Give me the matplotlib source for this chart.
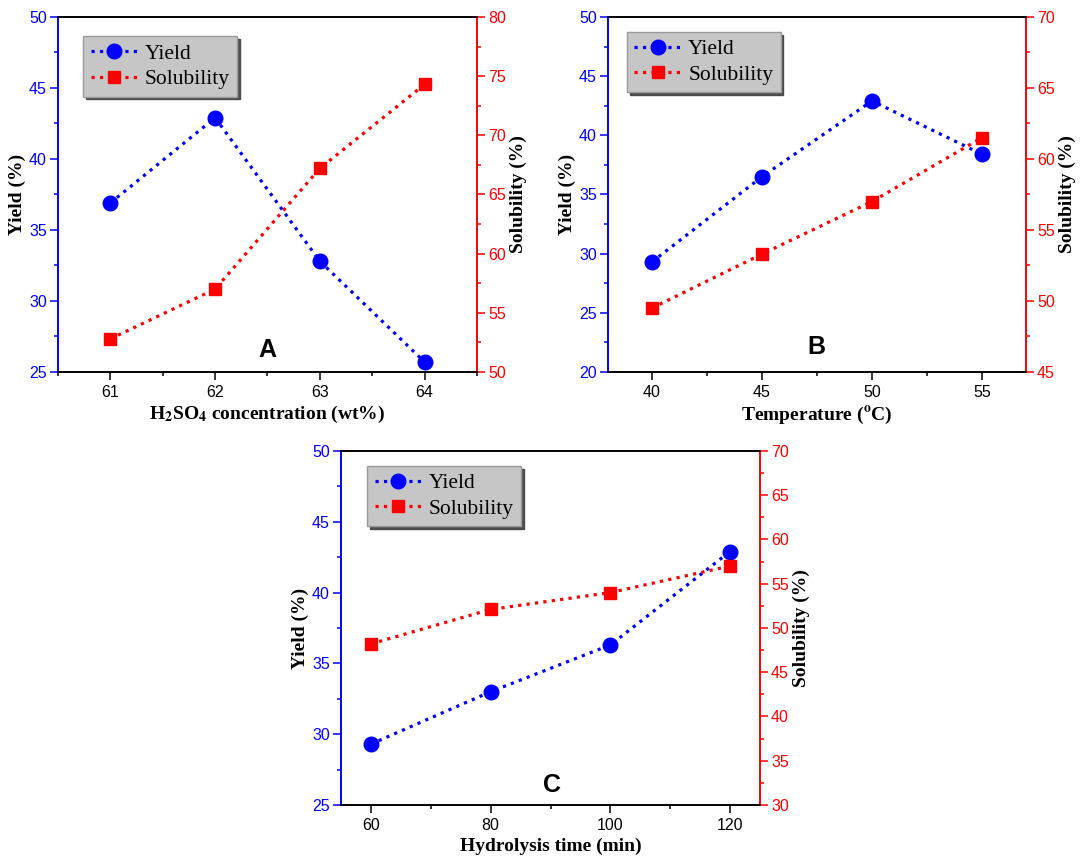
import matplotlib
matplotlib.use("Agg")
import matplotlib.pyplot as plt
from matplotlib.ticker import MultipleLocator

plt.rcParams["mathtext.fontset"] = "stix"

BLUE = "#0000ff"
RED = "#ff0000"

# panel A: acid concentration
acid = [61, 62, 63, 64]
acid_yield = [36.9, 42.9, 32.8, 25.7]
acid_solub = [52.8, 57.0, 67.2, 74.3]

# panel B: temperature
temp = [40, 45, 50, 55]
temp_yield = [29.3, 36.5, 42.9, 38.4]
temp_solub = [49.5, 53.3, 57.0, 61.5]

# panel C: hydrolysis time
time_min = [60, 80, 100, 120]
time_yield = [29.3, 33.0, 36.3, 42.9]
time_solub = [48.2, 52.1, 54.0, 57.0]

PANELS = [
    # rect, x, yield, solub, xlim, xmajor, ylim, y2lim, xlabel, letter, letter pos, legend anchor
    ([0.0535, 0.567, 0.3865, 0.4133], acid, acid_yield, acid_solub, (60.5, 64.5), 1,
     (25, 50), (50, 80), r"H$_{\mathbf{2}}$SO$_{\mathbf{4}}$ concentration (wt%)",
     "A", (62.5, 26.55), (0.06, 0.946)),
    ([0.5609, 0.567, 0.3856, 0.4133], temp, temp_yield, temp_solub, (38, 57), 5,
     (20, 50), (45, 70), r"Temperature ($^{\mathbf{o}}$C)",
     "B", (47.45, 22.1), (0.045, 0.958)),
    ([0.3146, 0.0629, 0.3865, 0.4121], time_min, time_yield, time_solub, (55, 125), 20,
     (25, 50), (30, 70), "Hydrolysis time (min)",
     "C", (90.2, 26.4), (0.062, 0.958)),
]

SERIF = "Liberation Serif"
SANS = "Liberation Sans"

fig = plt.figure(figsize=(10.84, 8.59), dpi=100)

for rect, x, yld, sol, xlim, xmaj, ylim, y2lim, xlabel, letter, lpos, anchor in PANELS:
    ax = fig.add_axes(rect)
    ax2 = ax.twinx()

    l1, = ax.plot(x, yld, linestyle=":", color=BLUE, linewidth=2.3,
                  marker="o", markersize=10.5, label="Yield")
    l2, = ax2.plot(x, sol, linestyle=":", color=RED, linewidth=2.3,
                   marker="s", markersize=8.5, label="Solubility")

    ax.set_xlim(*xlim)
    ax.set_ylim(*ylim)
    ax2.set_ylim(*y2lim)
    ax.xaxis.set_major_locator(MultipleLocator(xmaj))
    ax.xaxis.set_minor_locator(MultipleLocator(xmaj / 2))
    ax.yaxis.set_major_locator(MultipleLocator(5))
    ax.yaxis.set_minor_locator(MultipleLocator(2.5))
    ax2.yaxis.set_major_locator(MultipleLocator(5))
    ax2.yaxis.set_minor_locator(MultipleLocator(2.5))

    for a in (ax, ax2):
        a.spines["left"].set_color(BLUE)
        a.spines["right"].set_color(RED)
        for s in a.spines.values():
            s.set_linewidth(1.2)

    ax.tick_params(axis="y", which="both", direction="out", colors=BLUE,
                   labelsize=11.5, length=6, width=1.1, pad=2)
    ax.tick_params(axis="y", which="minor", length=3)
    ax.tick_params(axis="x", which="both", direction="out", colors="black",
                   labelsize=11.5, length=6, width=1.1)
    ax.tick_params(axis="x", which="minor", length=3)
    ax2.tick_params(axis="y", which="both", direction="out", colors=RED,
                    labelsize=11.5, length=6, width=1.1, pad=2)
    ax2.tick_params(axis="y", which="minor", length=3)
    for lab in ax.get_xticklabels() + ax.get_yticklabels() + ax2.get_yticklabels():
        lab.set_fontfamily(SANS)

    ax.set_xlabel(xlabel, fontsize=14, fontweight="bold", family=SERIF, labelpad=3)
    ax.set_ylabel("Yield (%)", fontsize=14, fontweight="bold", family=SERIF, labelpad=2)
    ax2.set_ylabel("Solubility (%)", fontsize=14, fontweight="bold", family=SERIF, labelpad=3)

    ax.text(lpos[0], lpos[1], letter, fontsize=18, fontweight="bold", family=SANS,
            ha="center", va="center")

    leg = ax2.legend([l1, l2], ["Yield", "Solubility"], loc="upper left",
                     bbox_to_anchor=anchor, borderaxespad=0, frameon=True, fancybox=False,
                     shadow={"color": "#404040", "alpha": 0.9},
                     prop={"family": SERIF, "size": 15.5},
                     handlelength=2.2, handletextpad=0.3, borderpad=0.35,
                     labelspacing=0.25)
    frame = leg.get_frame()
    frame.set_facecolor("#c6c6c6")
    frame.set_edgecolor("#9a9a9a")
    frame.set_alpha(1)

fig.savefig("out.png", dpi=100)
